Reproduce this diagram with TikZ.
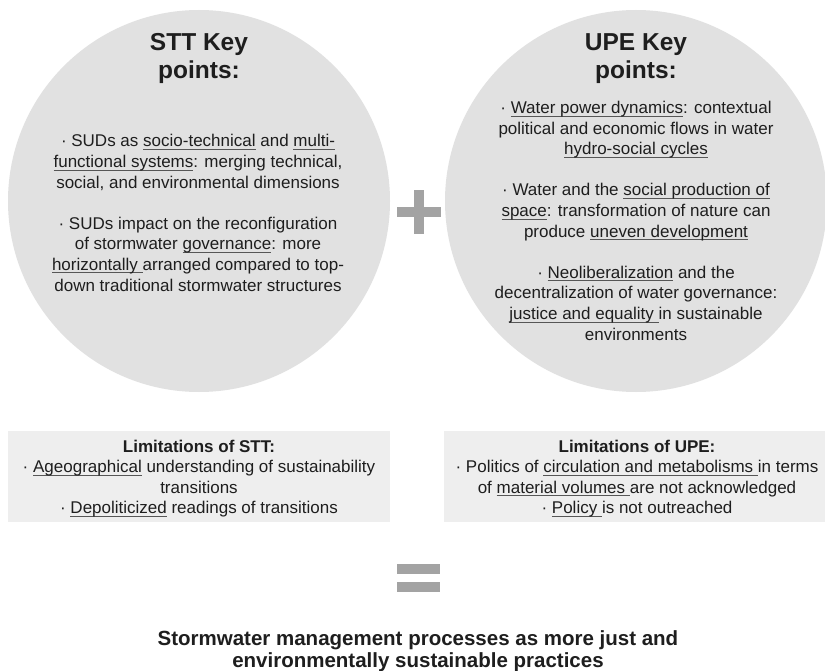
\documentclass[tikz,border=0pt]{standalone}
\usepackage{fontspec}
\setmainfont{Liberation Sans}
\definecolor{circ}{HTML}{E1E1E1}
\definecolor{boxc}{HTML}{EEEEEE}
\definecolor{sym}{HTML}{A3A3A3}
\definecolor{txt}{HTML}{1E1E1E}
\newsavebox\ulbox
\newcommand\myul[1]{\sbox\ulbox{#1}\rlap{\textcolor{txt!75}{\rule[-2.8pt]{\wd\ulbox}{0.8pt}}}\usebox\ulbox}
\newcommand\bul{·}
\begin{document}
\begin{tikzpicture}[x=1pt,y=-1pt,
  every node/.style={inner sep=0pt, text=txt},
  keycirc/.style={circle, fill=circ, draw=none, minimum size=382pt},
  limbox/.style={rectangle, fill=boxc, draw=none, minimum width=382pt, minimum height=91pt},
  symbar/.style={rectangle, fill=sym, draw=none},
  titletext/.style={anchor=north, align=center, font=\bfseries\fontsize{24.5}{28.3}\selectfont},
  bodytext/.style={anchor=north, align=center, font=\fontsize{17}{20.6}\selectfont},
  limtext/.style={anchor=north, align=center, font=\fontsize{17}{20.5}\selectfont},
  resulttext/.style={anchor=north, align=center, font=\bfseries\fontsize{20.5}{22}\selectfont}]
\useasboundingbox (0,0) rectangle (825,671);
\fill[white] (0,0) rectangle (825,671);
% circles
\node[keycirc] (sttc) at (199,201) {};
\node[keycirc] (upec) at (636,201) {};
% plus
\node[symbar, minimum width=44pt, minimum height=10pt] (plush) at (419,212.5) {};
\node[symbar, minimum width=10pt, minimum height=44pt] (plusv) at (419,212.5) {};
% titles
\node[titletext] (stttitle) at (199,30) {\rule{0pt}{20pt}STT Key\\points:};
\node[titletext] (upetitle) at (636,30) {\rule{0pt}{20pt}UPE Key\\points:};
% STT body
\node[bodytext] (sttbody) at (198,134.2) {\rule{0pt}{12.5pt}\bul{} SUDs as \myul{socio-technical} and \myul{multi-}\\
\myul{functional systems}: merging technical,\\
social, and environmental dimensions\\[20.6pt]
\bul{} SUDs impact on the reconfiguration\\
of stormwater \myul{governance}: more\\
\myul{horizontally\ }arranged compared to top-\\
down traditional stormwater structures};
% UPE body
\node[bodytext] (upebody) at (636,100.8) {\rule{0pt}{12.5pt}\bul{} \myul{Water power dynamics}: contextual\\
political and economic flows in water\\
\myul{hydro-social cycles}\\[20.6pt]
\bul{} Water and the \myul{social production of}\\
\myul{space}: transformation of nature can\\
produce \myul{uneven development}\\[20.6pt]
\bul{} \myul{Neoliberalization} and the\\
decentralization of water governance:\\
\myul{justice and equality\ }in sustainable\\
environments};
% limitation boxes
\node[limbox] (sttlim) at (199,476.5) {};
\node[limbox] (upelim) at (635,476.5) {};
\node[limtext] (sttlimtext) at (199,439.5) {\rule{0pt}{12.5pt}\textbf{Limitations of STT:}\\
\bul{} \myul{Ageographical} understanding of sustainability\\
transitions\\
\bul{} \myul{Depoliticized} readings of transitions};
\node[limtext] (upelimtext) at (637,439.5) {\rule{0pt}{12.5pt}\textbf{Limitations of UPE:}\\
\bul{} Politics of \myul{circulation and metabolisms\ }in terms\\
of \myul{material volumes\ }are not acknowledged\\
\bul{} \myul{Policy\ }is not outreached};
% equals
\node[symbar, minimum width=43pt, minimum height=10pt] (eqtop) at (418.5,568.5) {};
\node[symbar, minimum width=43pt, minimum height=10pt] (eqbot) at (418.5,587) {};
% result
\node[resulttext] (result) at (418,629) {\rule{0pt}{16pt}Stormwater management processes as more just and\\
environmentally sustainable practices};
\end{tikzpicture}
\end{document}
